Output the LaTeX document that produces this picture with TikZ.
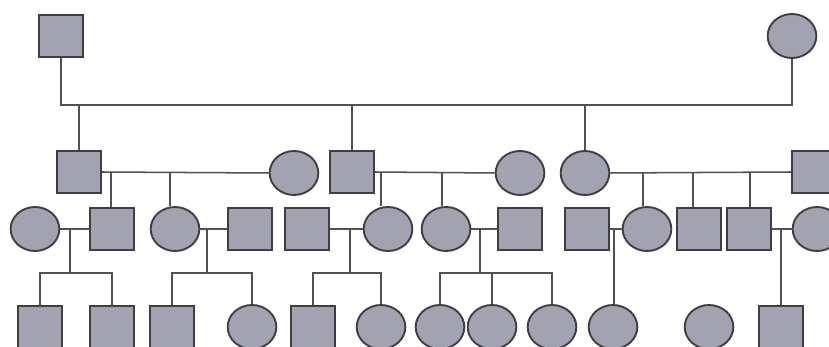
\documentclass[tikz,border=0pt]{standalone}
\usetikzlibrary{shapes.geometric}
\definecolor{fillg}{HTML}{A2A2B0}
\definecolor{edgeg}{HTML}{3E3E44}
\definecolor{lineg}{HTML}{505056}
\tikzset{
  male/.style={draw=edgeg, fill=fillg, line width=1.6pt, rectangle, minimum width=1.32cm, minimum height=1.28cm, inner sep=0pt},
  female/.style={draw=edgeg, fill=fillg, line width=1.6pt, ellipse, minimum width=1.46cm, minimum height=1.32cm, inner sep=0pt},
  conn/.style={draw=lineg, line width=1.3pt}
}
\begin{document}
\begin{tikzpicture}[x=0.03cm,y=-0.03cm]
\useasboundingbox (0,0) rectangle (829,347);
% generation I
\node[male] (f1) at (61,36) {};
\node[female] (m1) at (792,36) {};
% generation II
\node[male] (a) at (79,172) {};
\node[female] (aw) at (294,173) {};
\node[male] (b) at (352,172) {};
\node[female] (bw) at (520,173) {};
\node[female] (c) at (585,173) {};
\node[male] (ch) at (814,172) {};
% generation III
\node[female] (A) at (35,229) {};
\node[male] (B) at (112,229) {};
\node[female] (C) at (175,229) {};
\node[male] (D) at (250,229) {};
\node[male] (E) at (307,229) {};
\node[female] (F) at (388,229) {};
\node[female] (G) at (446,229) {};
\node[male] (H) at (520,229) {};
\node[male] (I) at (587,229) {};
\node[female] (J) at (647,229) {};
\node[male] (K) at (699,229) {};
\node[male] (L) at (749,229) {};
\node[female] (M) at (817,229) {};
% generation IV
\node[male] (r1) at (40,327) {};
\node[male] (r2) at (112,327) {};
\node[male] (r3) at (172,327) {};
\node[female] (r4) at (252,327) {};
\node[male] (r5) at (313,327) {};
\node[female] (r6) at (381,327) {};
\node[female] (r7) at (440,327) {};
\node[female] (r8) at (492,327) {};
\node[female] (r9) at (552,327) {};
\node[female] (r10) at (613,327) {};
\node[female] (r11) at (709,327) {};
\node[male] (r12) at (781,327) {};
% coordinates
\coordinate (t0) at (61,105);
\coordinate (t1) at (792,105);
\coordinate (pa1) at (111,173);
\coordinate (pa2) at (170,173);
\coordinate (pb1) at (381,173);
\coordinate (pb2) at (442,173);
\coordinate (pc1) at (643,173);
\coordinate (pc2) at (693,173);
\coordinate (pc3) at (750,173);
\coordinate (qAB) at (70,229);
\coordinate (sAB) at (70,273);
\coordinate (qCD) at (207,229);
\coordinate (sCD) at (207,273);
\coordinate (qEF) at (350,229);
\coordinate (sEF) at (350,273);
\coordinate (qGH) at (480,229);
\coordinate (sGH) at (480,273);
\coordinate (qIJ) at (614,229);
\coordinate (qLM) at (781,229);
% generation I lines
\draw[conn] (f1.south) -- (t0) -- (t1) -- (m1.south);
\draw[conn] (a.north) -- (a.north |- t0);
\draw[conn] (b.north) -- (b.north |- t0);
\draw[conn] (c.north) -- (c.north |- t0);
% generation II couples
\draw[conn] (a.east) -- (aw.west);
\draw[conn] (b.east) -- (bw.west);
\draw[conn] (c.east) -- (ch.west);
\draw[conn] (pa1) -- (pa1 |- B.north);
\draw[conn] (pa2) -- (pa2 |- C.north);
\draw[conn] (pb1) -- (pb1 |- F.north);
\draw[conn] (pb2) -- (pb2 |- G.north);
\draw[conn] (pc1) -- (pc1 |- J.north);
\draw[conn] (pc2) -- (pc2 |- K.north);
\draw[conn] (pc3) -- (pc3 |- L.north);
% generation III couples
\draw[conn] (A.east) -- (B.west);
\draw[conn] (qAB) -- (sAB);
\draw[conn] (r1.north) |- (sAB) -| (r2.north);
\draw[conn] (C.east) -- (D.west);
\draw[conn] (qCD) -- (sCD);
\draw[conn] (r3.north) |- (sCD) -| (r4.north);
\draw[conn] (E.east) -- (F.west);
\draw[conn] (qEF) -- (sEF);
\draw[conn] (r5.north) |- (sEF) -| (r6.north);
\draw[conn] (G.east) -- (H.west);
\draw[conn] (qGH) -- (sGH);
\draw[conn] (r7.north) |- (sGH) -| (r9.north);
\draw[conn] (r8.north) -- (r8.north |- sGH);
\draw[conn] (I.east) -- (J.west);
\draw[conn] (qIJ) -- (qIJ |- r10.north);
\draw[conn] (L.east) -- (M.west);
\draw[conn] (qLM) -- (qLM |- r12.north);
\end{tikzpicture}
\end{document}
